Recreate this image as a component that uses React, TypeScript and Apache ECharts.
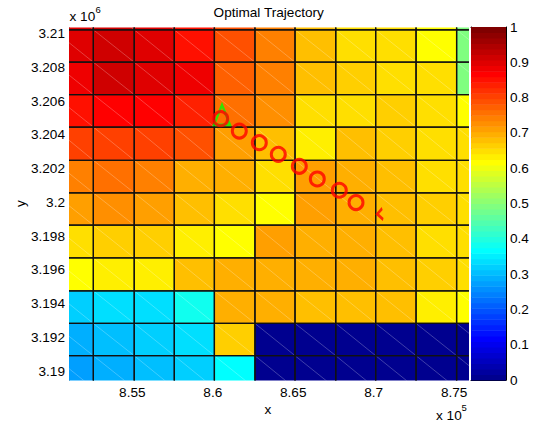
import React, { useEffect, useRef } from "react";
import * as echarts from "echarts";

// Cell edges in data units (x: easting, y: northing, rows listed top to bottom)
const xEdges = [850070, 852580, 855120, 857610, 860100, 862620, 865110, 867640, 870120, 872630, 875150, 877660];
const yEdges = [3212150, 3210220, 3208300, 3206380, 3204460, 3202490, 3200560, 3198650, 3196710, 3194760, 3192830, 3190920, 3188990];

// Cell values, one row per array, top to bottom, columns left to right
const row0 = [0.906, 0.914, 0.906, 0.852, 0.789, 0.742, 0.672, 0.656, 0.648, 0.617, 0.492];
const row1 = [0.906, 0.914, 0.906, 0.852, 0.789, 0.742, 0.672, 0.656, 0.648, 0.617, 0.492];
const row2 = [0.885, 0.910, 0.898, 0.875, 0.780, 0.742, 0.676, 0.664, 0.656, 0.641, 0.492];
const row3 = [0.852, 0.867, 0.860, 0.830, 0.758, 0.727, 0.656, 0.656, 0.660, 0.641, 0.617];
const row4 = [0.805, 0.812, 0.797, 0.789, 0.711, 0.684, 0.633, 0.676, 0.668, 0.656, 0.645];
const row5 = [0.742, 0.750, 0.742, 0.703, 0.691, 0.656, 0.711, 0.703, 0.680, 0.656, 0.656];
const row6 = [0.711, 0.719, 0.711, 0.676, 0.656, 0.617, 0.711, 0.703, 0.680, 0.664, 0.656];
const row7 = [0.648, 0.668, 0.660, 0.633, 0.617, 0.715, 0.703, 0.700, 0.684, 0.648, 0.656];
const row8 = [0.617, 0.633, 0.633, 0.684, 0.703, 0.703, 0.691, 0.691, 0.684, 0.664, 0.648];
const row9 = [0.328, 0.336, 0.336, 0.390, 0.691, 0.688, 0.684, 0.684, 0.680, 0.633, 0.617];
const row10 = [0.289, 0.301, 0.328, 0.336, 0.668, 0.005, 0.005, 0.005, 0.005, 0.005, 0.005];
const row11 = [0.266, 0.285, 0.297, 0.328, 0.367, 0.005, 0.005, 0.005, 0.005, 0.005, 0.005];
const cellRows = [row0, row1, row2, row3, row4, row5, row6, row7, row8, row9, row10, row11];

// Trajectory
const trajX = [860492, 861648, 862891, 864071, 865376, 866494, 867861, 868899];
const trajY = [3204956, 3204222, 3203536, 3202844, 3202135, 3201384, 3200716, 3199988];
const startX = [860573];
const startY = [3205180];
const endX = [870402];
const endY = [3199308];

// Axes
const xMin = 851067;
const xMax = 875876;
const yMin = 3189450;
const yMax = 3210355;
const xTicks = [855000, 860000, 865000, 870000, 875000];
const yTicks = [3190000, 3192000, 3194000, 3196000, 3198000, 3200000, 3202000, 3204000, 3206000, 3208000, 3210000];
const colorbarLevelCount = 64;

const FONT = "'Liberation Sans', Arial, Helvetica, sans-serif";
const FS = 13.6;

function jetColor(v: number): string {
  const k = Math.max(0, Math.min(63, Math.floor(v * 64))) + 1;
  let r = 0, g = 0, b = 0;
  if (k >= 25 && k <= 40) r = (k - 24) / 16;
  else if (k >= 41 && k <= 56) r = 1;
  else if (k >= 57) r = (72 - k) / 16;
  if (k >= 9 && k <= 24) g = (k - 8) / 16;
  else if (k >= 25 && k <= 40) g = 1;
  else if (k >= 41 && k <= 55) g = (56 - k) / 16;
  if (k <= 8) b = (k + 8) / 16;
  else if (k <= 24) b = 1;
  else if (k <= 39) b = (40 - k) / 16;
  return `rgb(${Math.round(r * 255)},${Math.round(g * 255)},${Math.round(b * 255)})`;
}

export default function App() {
  const ref = useRef<HTMLDivElement>(null);
  useEffect(() => {
    if (!ref.current) return;
    const chart = echarts.init(ref.current, null, { renderer: "svg" });

    const cellData: number[][] = [];
    cellRows.forEach((row, r) => {
      row.forEach((v, c) => {
        cellData.push([(xEdges[c] + xEdges[c + 1]) / 2, (yEdges[r] + yEdges[r + 1]) / 2, v, c, r]);
      });
    });
    const cbData: number[][] = [];
    for (let i = 0; i < colorbarLevelCount; i++) {
      cbData.push([0.5, (i + 0.5) / colorbarLevelCount, i]);
    }

    const cellRect = (api: any) => {
      const c = api.value(3) as number;
      const r = api.value(4) as number;
      const p0 = api.coord([xEdges[c], yEdges[r]]);
      const p1 = api.coord([xEdges[c + 1], yEdges[r + 1]]);
      return { x: p0[0], y: p0[1], width: p1[0] - p0[0], height: p1[1] - p0[1] };
    };

    const option: any = {
      animation: false,
      backgroundColor: "#ffffff",
      grid: [
        { left: 69, top: 27.5, width: 399.3, height: 353, show: false },
        { left: 471, top: 27, width: 35, height: 353, show: false },
      ],
      xAxis: [
        {
          type: "value", gridIndex: 0, min: xMin, max: xMax,
          axisLine: { show: false }, axisTick: { show: false }, splitLine: { show: false },
          axisLabel: {
            customValues: xTicks, margin: 5, color: "#000", fontSize: FS, fontFamily: FONT,
            formatter: (v: number) => String(+(v / 1e5).toFixed(3)),
          },
        },
        {
          type: "value", gridIndex: 1, min: 0, max: 1, position: "bottom",
          axisLine: { show: true, onZero: false, lineStyle: { color: "#000", width: 1 } },
          axisTick: { show: false }, axisLabel: { show: false }, splitLine: { show: false },
        },
        {
          type: "value", gridIndex: 1, min: 0, max: 1, position: "top",
          axisLine: { show: true, onZero: false, lineStyle: { color: "#000", width: 1 } },
          axisTick: { show: false }, axisLabel: { show: false }, splitLine: { show: false },
        },
      ],
      yAxis: [
        {
          type: "value", gridIndex: 0, min: yMin, max: yMax,
          axisLine: { show: true, lineStyle: { color: "#a8a8a8", width: 1 } },
          axisTick: { show: false }, splitLine: { show: false },
          axisLabel: {
            customValues: yTicks, margin: 4, color: "#000", fontSize: FS, fontFamily: FONT,
            formatter: (v: number) => String(+(v / 1e6).toFixed(3)),
          },
        },
        {
          type: "value", gridIndex: 1, min: 0, max: 1, interval: 0.1, position: "right",
          axisLine: { show: true, onZero: false, lineStyle: { color: "#000", width: 1 } },
          axisTick: { show: true, inside: true, length: 4, lineStyle: { color: "#000" } },
          splitLine: { show: false },
          axisLabel: {
            margin: 4, color: "#000", fontSize: FS, fontFamily: FONT,
            formatter: (v: number) => String(+v.toFixed(1)),
          },
        },
        {
          type: "value", gridIndex: 1, min: 0, max: 1, interval: 0.1, position: "left",
          axisLine: { show: true, onZero: false, lineStyle: { color: "#000", width: 1 } },
          axisTick: { show: true, inside: true, length: 4, lineStyle: { color: "#000" } },
          splitLine: { show: false }, axisLabel: { show: false },
        },
      ],
      series: [
        {
          type: "custom", xAxisIndex: 0, yAxisIndex: 0, clip: true, z: 1,
          data: cellData,
          renderItem: (_p: any, api: any) => {
            const s = cellRect(api);
            return {
              type: "group",
              children: [
                { type: "rect", shape: s, style: { fill: jetColor(api.value(2)) } },
                {
                  type: "line",
                  shape: { x1: s.x, y1: s.y, x2: s.x + s.width, y2: s.y + s.height },
                  style: { stroke: "rgba(255,255,255,0.35)", lineWidth: 0.7 },
                },
              ],
            };
          },
        },
        {
          type: "custom", xAxisIndex: 0, yAxisIndex: 0, clip: true, z: 2,
          data: cellData,
          renderItem: (_p: any, api: any) => {
            const s = cellRect(api);
            return { type: "rect", shape: s, style: { fill: "none", stroke: "#111", lineWidth: 1.3 } };
          },
        },
        {
          type: "scatter", xAxisIndex: 0, yAxisIndex: 0, z: 4,
          data: startX.map((x, i) => [x, startY[i]]),
          symbol: "triangle", symbolSize: [16, 20],
          itemStyle: { color: "rgba(0,0,0,0)", borderColor: "#00ff00", borderWidth: 2.5 },
        },
        {
          type: "scatter", xAxisIndex: 0, yAxisIndex: 0, z: 5,
          data: trajX.map((x, i) => [x, trajY[i]]),
          symbol: "circle", symbolSize: 14,
          itemStyle: { color: "rgba(0,0,0,0)", borderColor: "#ff0000", borderWidth: 3 },
        },
        {
          type: "scatter", xAxisIndex: 0, yAxisIndex: 0, z: 5,
          data: endX.map((x, i) => [x, endY[i]]),
          symbol: "path://M5,0 L0,5.5 L6,11", symbolSize: [6, 11],
          itemStyle: { color: "rgba(0,0,0,0)", borderColor: "#ff0000", borderWidth: 2.5 },
        },
        {
          type: "custom", xAxisIndex: 1, yAxisIndex: 1, z: 1,
          data: cbData,
          renderItem: (_p: any, api: any) => {
            const i = api.value(2) as number;
            const p0 = api.coord([0, (i + 1) / colorbarLevelCount]);
            const p1 = api.coord([1, i / colorbarLevelCount]);
            return {
              type: "rect",
              shape: { x: p0[0], y: p0[1], width: p1[0] - p0[0], height: p1[1] - p0[1] + 0.5 },
              style: { fill: jetColor((i + 0.5) / colorbarLevelCount) },
            };
          },
        },
      ],
      graphic: [
        {
          type: "text", x: 268.7, y: 12,
          style: { text: "Optimal Trajectory", fill: "#000", fontSize: FS, fontFamily: FONT, textAlign: "center", textVerticalAlign: "middle" },
        },
        {
          type: "text", x: 268, y: 409.5,
          style: { text: "x", fill: "#000", fontSize: FS, fontFamily: FONT, textAlign: "center", textVerticalAlign: "middle" },
        },
        {
          type: "text", x: 20.5, y: 203.5, rotation: Math.PI / 2,
          style: { text: "y", fill: "#000", fontSize: FS, fontFamily: FONT, textAlign: "center", textVerticalAlign: "middle" },
        },
        {
          type: "text", x: 436, y: 415.5,
          style: { text: "x 10", fill: "#000", fontSize: FS, fontFamily: FONT, textAlign: "left", textVerticalAlign: "middle" },
        },
        {
          type: "text", x: 461.5, y: 407,
          style: { text: "5", fill: "#000", fontSize: 9.5, fontFamily: FONT, textAlign: "left", textVerticalAlign: "middle" },
        },
        {
          type: "text", x: 69.5, y: 16,
          style: { text: "x 10", fill: "#000", fontSize: FS, fontFamily: FONT, textAlign: "left", textVerticalAlign: "middle" },
        },
        {
          type: "text", x: 95.5, y: 9,
          style: { text: "6", fill: "#000", fontSize: 9.5, fontFamily: FONT, textAlign: "left", textVerticalAlign: "middle" },
        },
      ],
    };
    chart.setOption(option);
    return () => chart.dispose();
  }, []);
  return (
    <div
      ref={ref}
      style={{ position: "fixed", left: 0, top: 0, width: 534, height: 423, background: "#fff" }}
    />
  );
}
